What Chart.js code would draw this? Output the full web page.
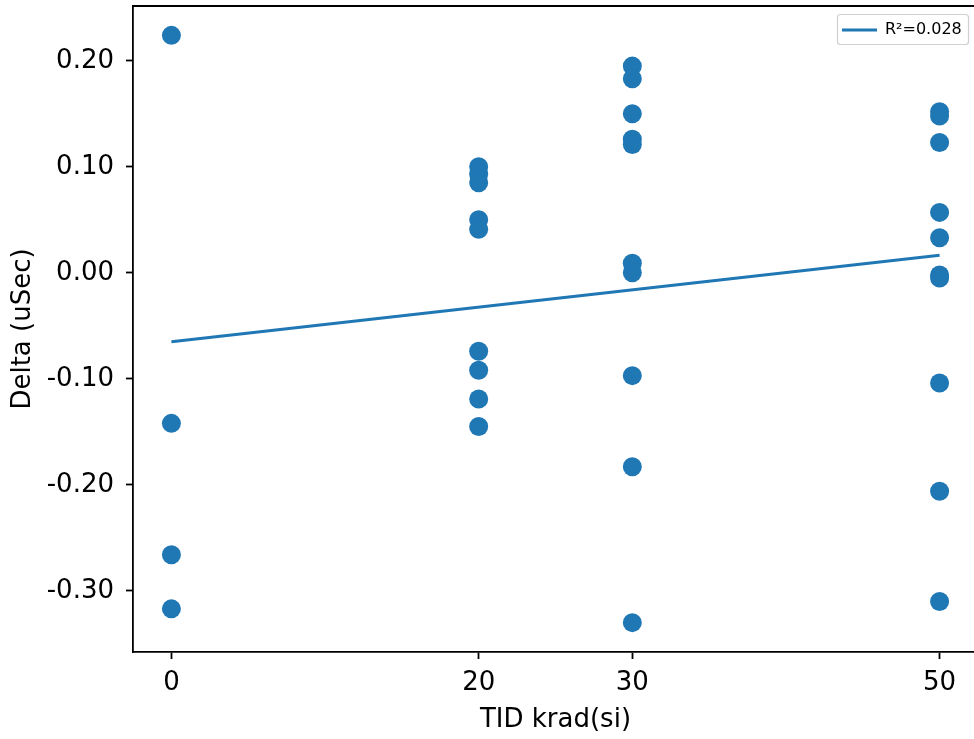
<!DOCTYPE html>
<html>
<head>
<meta charset="utf-8">
<script src="https://cdn.jsdelivr.net/npm/chart.js@4/dist/chart.umd.min.js"></script>
<style>
  html, body { margin: 0; padding: 0; background: #fff; overflow: hidden; width: 974px; height: 739px; }
  canvas { display: block; }
</style>
</head>
<body>
<canvas id="c" width="980" height="739"></canvas>
<script>
// ---- data ----
const tidLevels = [0, 20, 30, 50];
const delta0  = [0.224, -0.142, -0.266, -0.317];
const delta20 = [0.100, 0.093, 0.085, 0.050, 0.041, -0.074, -0.092, -0.119, -0.145];
const delta30 = [0.195, 0.183, 0.150, 0.126, 0.121, 0.009, 0.000, -0.097, -0.183, -0.330];
const delta50 = [0.152, 0.148, 0.123, 0.057, 0.033, -0.002, -0.005, -0.104, -0.206, -0.310];
const fitX = [0, 50];
const fitY = [-0.065, 0.0165];
const xTicks = [0, 20, 30, 50];
const yTicks = [-0.3, -0.2, -0.1, 0.0, 0.1, 0.2];
const legendLabel = 'R\u00B2=0.028';
const xTitle = 'TID krad(si)';
const yTitle = 'Delta (uSec)';

const blue = '#1f77b4';
const FONT = 'DejaVu Sans';

const groups = [delta0, delta20, delta30, delta50];
const scatterPts = [];
groups.forEach((vals, i) => vals.forEach(v => scatterPts.push({ x: tidLevels[i], y: v })));
const fitPts = fitX.map((x, i) => ({ x: x, y: fitY[i] }));

const framePlugin = {
  id: 'frameAndLegend',
  afterDraw(chart) {
    const ctx = chart.ctx;
    const a = chart.chartArea;
    ctx.save();
    // top spine
    ctx.strokeStyle = '#000';
    ctx.lineWidth = 1.8;
    ctx.beginPath();
    ctx.moveTo(a.left - 0.9, a.top);
    ctx.lineTo(a.right, a.top);
    ctx.stroke();
    // legend box
    const bx = 837.5, by = 14.5, bw = 131, bh = 30, r = 3;
    ctx.fillStyle = 'rgba(255,255,255,0.8)';
    ctx.strokeStyle = '#d0d0d0';
    ctx.lineWidth = 1.2;
    ctx.beginPath();
    ctx.moveTo(bx + r, by);
    ctx.lineTo(bx + bw - r, by);
    ctx.arcTo(bx + bw, by, bx + bw, by + r, r);
    ctx.lineTo(bx + bw, by + bh - r);
    ctx.arcTo(bx + bw, by + bh, bx + bw - r, by + bh, r);
    ctx.lineTo(bx + r, by + bh);
    ctx.arcTo(bx, by + bh, bx, by + bh - r, r);
    ctx.lineTo(bx, by + r);
    ctx.arcTo(bx, by, bx + r, by, r);
    ctx.closePath();
    ctx.fill();
    ctx.stroke();
    // legend line sample
    ctx.strokeStyle = blue;
    ctx.lineWidth = 3;
    ctx.beginPath();
    ctx.moveTo(842, 30);
    ctx.lineTo(877, 30);
    ctx.stroke();
    // legend text
    ctx.fillStyle = '#000';
    ctx.font = '16px "' + FONT + '"';
    ctx.textAlign = 'left';
    ctx.textBaseline = 'middle';
    ctx.fillText(chart.data.datasets[1].label, 885, 30);
    ctx.restore();
  }
};

new Chart(document.getElementById('c'), {
  type: 'scatter',
  data: {
    datasets: [
      {
        label: 'data',
        data: scatterPts,
        backgroundColor: blue,
        borderWidth: 0,
        pointRadius: 9.5,
        pointHoverRadius: 9.5,
        clip: false,
        order: 2
      },
      {
        type: 'line',
        label: legendLabel,
        data: fitPts,
        borderColor: blue,
        borderWidth: 3,
        pointRadius: 0,
        fill: false,
        showLine: true,
        order: 1
      }
    ]
  },
  options: {
    responsive: false,
    animation: false,
    events: [],
    layout: { autoPadding: false, padding: { top: 6, right: 2, left: 0, bottom: 0 } },
    plugins: {
      legend: { display: false },
      tooltip: { enabled: false }
    },
    scales: {
      x: {
        type: 'linear',
        min: -2.5,
        max: 52.5,
        afterBuildTicks: s => { s.ticks = xTicks.map(v => ({ value: v })); },
        afterFit: s => { s.height = 87; s.paddingLeft = 0; s.paddingRight = 0; },
        grid: { display: true, drawOnChartArea: false, drawTicks: true, tickLength: 7, tickWidth: 1.8, tickColor: '#000' },
        border: { display: true, color: '#000', width: 1.8 },
        ticks: {
          color: '#000',
          font: { family: FONT, size: 26 },
          padding: 9,
          maxRotation: 0,
          autoSkip: false,
          callback: v => String(v)
        },
        title: {
          display: true,
          text: xTitle,
          color: '#000',
          font: { family: FONT, size: 26 },
          padding: { top: 0, bottom: 3 }
        }
      },
      y: {
        type: 'linear',
        min: -0.3577,
        max: 0.2517,
        afterBuildTicks: s => { s.ticks = yTicks.map(v => ({ value: v })); },
        afterFit: s => { s.width = 133; s.paddingTop = 0; s.paddingBottom = 0; },
        grid: { display: true, drawOnChartArea: false, drawTicks: true, tickLength: 7, tickWidth: 1.8, tickColor: '#000' },
        border: { display: true, color: '#000', width: 1.8 },
        ticks: {
          color: '#000',
          font: { family: FONT, size: 26 },
          padding: 12,
          autoSkip: false,
          callback: v => Number(v).toFixed(2)
        },
        title: {
          display: true,
          text: yTitle,
          color: '#000',
          font: { family: FONT, size: 26 },
          padding: { top: 8, bottom: 0 }
        }
      }
    }
  },
  plugins: [framePlugin]
});
</script>
</body>
</html>
